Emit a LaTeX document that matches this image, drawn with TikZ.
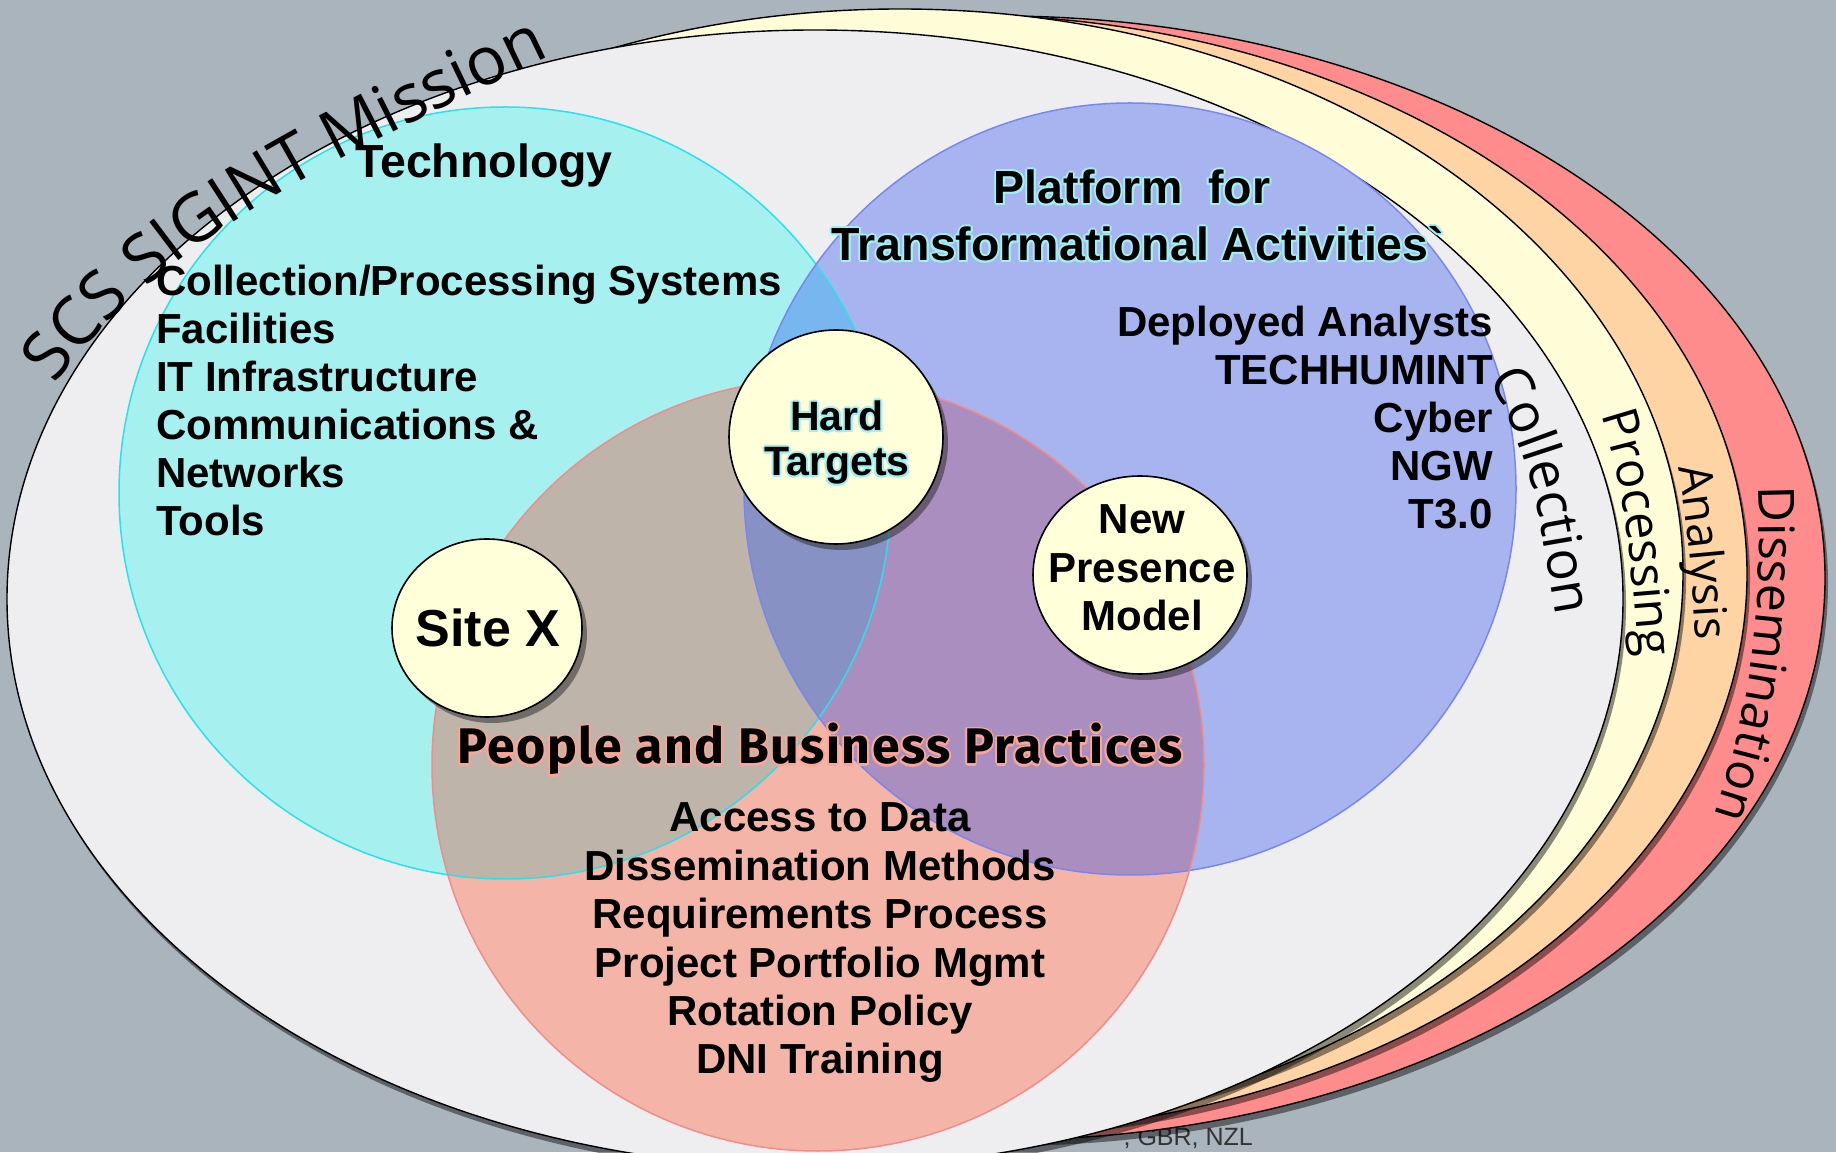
\documentclass[tikz,border=0pt]{standalone}
\usepackage{fontspec}
\setmainfont{Liberation Sans}
\newfontfamily\curvefont{Open Sans}
\newfontfamily\peoplefont{Fira Sans}[LetterSpace=3]
\usetikzlibrary{shapes.geometric,shadows,decorations.text}

\definecolor{bggray}{RGB}{169,180,188}
\definecolor{collfill}{RGB}{238,238,240}
\definecolor{procfill}{RGB}{254,253,216}
\definecolor{analfill}{RGB}{254,212,164}
\definecolor{dissfill}{RGB}{254,140,140}
\definecolor{techfill}{RGB}{166,240,240}
\definecolor{platfill}{RGB}{168,180,240}
\definecolor{peopfill}{RGB}{244,180,168}
\definecolor{techpeop}{RGB}{190,180,170}
\definecolor{platpeop}{RGB}{170,142,192}
\definecolor{techplat}{RGB}{120,182,240}
\definecolor{allthree}{RGB}{135,145,195}
\definecolor{techedge}{RGB}{40,225,235}
\definecolor{platedge}{RGB}{120,135,240}
\definecolor{peopedge}{RGB}{240,140,140}
\definecolor{bubblefill}{RGB}{255,255,217}
\definecolor{cyanglow}{RGB}{160,240,240}
\definecolor{pinkglow}{RGB}{250,165,150}

% text with a coloured halo behind it
\newcommand{\halo}[2]{%
  \leavevmode\rlap{\color{#1}%
    \foreach \hx/\hy in {2/0,1.4/1.4,0/2,-1.4/1.4,-2/0,-1.4/-1.4,0/-2,1.4/-1.4}%
      {\rlap{\hspace*{\hx pt}\raisebox{\hy pt}{#2}}}}%
  #2}

\tikzset{
  ring/.style={draw=black, line width=1.4pt,
    drop shadow={shadow xshift=3pt, shadow yshift=-6pt, opacity=.45, fill=black}},
  bubble/.style={ellipse, draw=black, line width=1.6pt, fill=bubblefill, inner sep=0pt,
    drop shadow={shadow xshift=5pt, shadow yshift=-6pt, opacity=.5, fill=black!85}},
  listtext/.style={font=\fontsize{42}{48}\selectfont\bfseries, inner sep=0pt},
  headtext/.style={font=\fontsize{46.5}{52}\selectfont\bfseries, inner sep=0pt, anchor=base},
  bubbletext/.style={font=\fontsize{42}{48}\selectfont\bfseries, inner sep=0pt, anchor=base},
}

\begin{document}
\begin{tikzpicture}[x=1pt,y=1pt]
\useasboundingbox (0,0) rectangle (1836,1152);
\fill[bggray] (0,0) rectangle (1836,1152);

% footer line, mostly hidden by the rings
\node[anchor=base east, font=\fontsize{25}{27}\selectfont, text=black!80, inner sep=0pt] (relto) at (1253,7) {, GBR, NZL};

% the four rings
\coordinate (dissc) at (1000,574);
\coordinate (analc) at (960,578);
\coordinate (procc) at (900,579);
\coordinate (collc) at (815,553);
\draw[ring, fill=dissfill] (dissc) ellipse[x radius=825, y radius=562];
\draw[ring, fill=analfill] (analc) ellipse[x radius=787, y radius=559];
\draw[ring, fill=procfill] (procc) ellipse[x radius=783, y radius=564];
\draw[ring, fill=collfill] (collc) ellipse[x radius=808, y radius=569];

% venn circles
\coordinate (techc) at (505,659);
\coordinate (platc) at (1130,663);
\coordinate (peopc) at (818,387);
\def\vr{386}
\fill[techfill] (techc) circle[radius=\vr];
\fill[platfill] (platc) circle[radius=\vr];
\fill[peopfill] (peopc) circle[radius=\vr];
\begin{scope}
  \clip (platc) circle[radius=\vr];
  \fill[platpeop] (peopc) circle[radius=\vr];
\end{scope}
\begin{scope}
  \clip (techc) circle[radius=\vr];
  \fill[techplat] (platc) circle[radius=\vr];
  \fill[techpeop] (peopc) circle[radius=\vr];
  \clip (platc) circle[radius=\vr];
  \fill[allthree] (peopc) circle[radius=\vr];
\end{scope}
\draw[techedge, line width=1.5pt] (techc) circle[radius=\vr];
\draw[platedge, line width=1.5pt] (platc) circle[radius=\vr];
\draw[peopedge, line width=1.5pt] (peopc) circle[radius=\vr];

% bubbles
\node[bubble, minimum width=190pt, minimum height=178pt] (sitex) at (487,524) {};
\node[bubble, minimum width=214pt, minimum height=214pt] (hard) at (836,715) {};
\node[bubble, minimum width=214pt, minimum height=198pt] (newpm) at (1140,577) {};

% technology
\node[headtext, anchor=base west] (techhead) at (355,974) {Technology};
\foreach \entry [count=\i] in {Collection/Processing Systems, Facilities, IT Infrastructure, Communications \&, Networks, Tools}
  \node[listtext, anchor=base west] (tech\i) at (156,{904-48*\i}) {\entry};

% platform
\node[headtext] (plathead) at (1132,948) {\halo{cyanglow}{Platform\ \ for}};
\node[headtext] (plathead2) at (1138,891) {\halo{cyanglow}{Transformational Activities\textasciigrave}};
\foreach \entry [count=\i] in {Deployed Analysts, TECHHUMINT, Cyber, NGW, T3.0}
  \node[listtext, anchor=base east] (plat\i) at (1493,{863-48*\i}) {\entry};

% people
\node[anchor=base, inner sep=0pt, font=\peoplefont\bfseries\fontsize{50}{56}\selectfont] (peophead) at (820,388)
  {\halo{pinkglow}{People and Business Practices}};
\foreach \entry [count=\i] in {Access to Data, Dissemination Methods, Requirements Process, Project Portfolio Mgmt, Rotation Policy, DNI Training}
  \node[listtext, anchor=base] (peop\i) at (820,{368.5-48.4*\i}) {\entry};

% bubble labels
\node[bubbletext, font=\fontsize{52}{56}\selectfont\bfseries] (sitexl) at (488,505) {Site X};
\node[bubbletext, font=\fontsize{41}{46}\selectfont\bfseries] (hard1) at (837,721) {\halo{cyanglow}{Hard}};
\node[bubbletext, font=\fontsize{41}{46}\selectfont\bfseries] (hard2) at (837,676) {\halo{cyanglow}{Targets}};
\node[bubbletext] (newpm1) at (1142,618) {New};
\node[bubbletext] (newpm2) at (1142,569) {Presence};
\node[bubbletext] (newpm3) at (1142,521) {Model};

% curved labels
\coordinate (misA) at (55,767);
\coordinate (misB) at (615,1128);
\path[decorate, decoration={text along path, text={|\curvefont\fontsize{67}{67}\selectfont|SCS SIGINT Mission}}]
  (misA) .. controls (177,937) and (405,1022) .. (misB);
\coordinate (collA) at (1488,773);
\coordinate (collB) at (1563,500);
\path[decorate, decoration={text along path, text={|\curvefont\fontsize{54}{54}\selectfont|Collection}}]
  (collA) to[out=-60,in=102] (collB);
\coordinate (procA) at (1601,737);
\coordinate (procB) at (1645,445);
\path[decorate, decoration={text along path, text={|\curvefont\fontsize{49}{49}\selectfont|Processing}}]
  (procA) to[out=-72,in=98] (procB);
\coordinate (analA) at (1678,684);
\coordinate (analB) at (1699,460);
\path[decorate, decoration={text along path, text={|\curvefont\fontsize{46}{46}\selectfont|Analysis}}]
  (analA) to[out=-80,in=94] (analB);
\coordinate (dissA) at (1758,665);
\coordinate (dissB) at (1695,280);
\path[decorate, decoration={text along path, text={|\curvefont\fontsize{50}{50}\selectfont|Dissemination}}]
  (dissA) to[out=-88,in=70] (dissB);
\end{tikzpicture}
\end{document}
